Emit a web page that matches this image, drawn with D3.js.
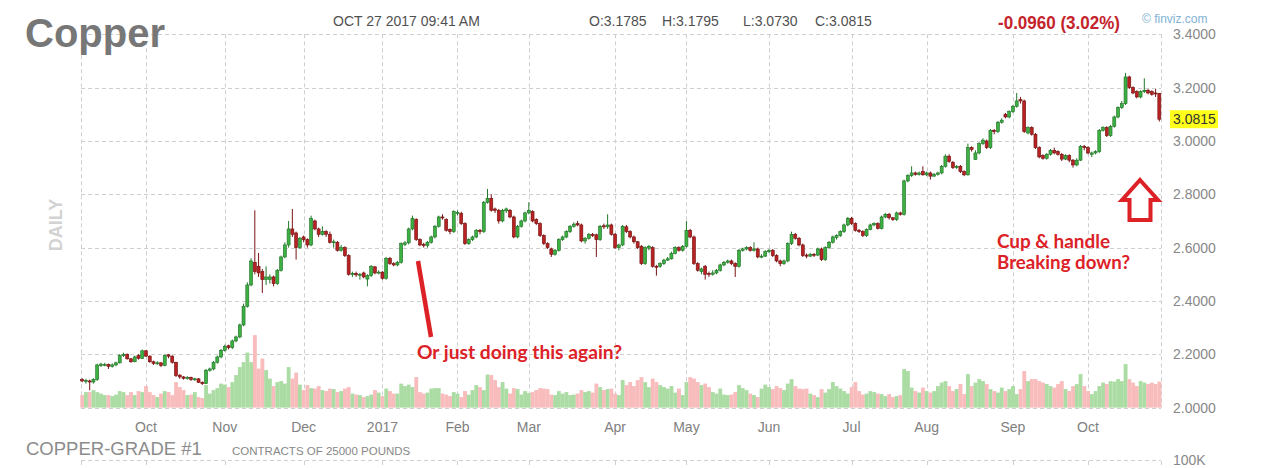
<!DOCTYPE html>
<html><head><meta charset="utf-8">
<script src="https://cdn.jsdelivr.net/npm/d3@7"></script>
<style>body{margin:0;background:#fff}svg{display:block}</style>
</head><body>
<svg id="chart" width="1287" height="468"></svg>
<script>
// ---- categories: trading days (COMEX) ----
const firstDay = "2016-09-08";
const lastDay = "2017-10-27";
const holidays = ["2016-11-24","2016-12-26","2017-01-02","2017-01-16","2017-02-20","2017-04-14","2017-05-29","2017-07-04","2017-09-04"];
const monthLabels = ["Oct","Nov","Dec","2017","Feb","Mar","Apr","May","Jun","Jul","Aug","Sep","Oct"];
const priceTicks = [2.0,2.2,2.4,2.6,2.8,3.0,3.2,3.4];

// ---- series values ----
const opens = [
2.105,2.100,2.100,2.096,2.105,2.158,2.160,2.162,2.155,2.160,
2.168,2.195,2.200,2.183,2.172,2.195,2.185,2.213,2.193,2.172,
2.166,2.168,2.158,2.198,2.193,2.170,2.122,2.115,2.110,2.113,
2.106,2.108,2.095,2.090,2.140,2.145,2.170,2.190,2.215,2.232,
2.225,2.250,2.265,2.310,2.380,2.460,2.545,2.530,2.510,2.480,
2.480,2.490,2.465,2.515,2.565,2.610,2.670,2.655,2.600,2.640,
2.630,2.610,2.700,2.670,2.650,2.660,2.650,2.620,2.620,2.590,
2.600,2.570,2.500,2.503,2.498,2.505,2.482,2.495,2.528,2.505,
2.508,2.485,2.560,2.540,2.535,2.545,2.612,2.618,2.670,2.705,
2.630,2.612,2.608,2.620,2.640,2.680,2.715,2.705,2.668,2.660,
2.728,2.728,2.690,2.615,2.630,2.640,2.665,2.660,2.770,2.785,
2.745,2.740,2.700,2.738,2.740,2.715,2.640,2.680,2.700,2.730,
2.735,2.705,2.690,2.645,2.615,2.595,2.575,2.590,2.630,2.640,
2.660,2.680,2.690,2.685,2.625,2.635,2.650,2.648,2.630,2.682,
2.678,2.685,2.650,2.600,2.610,2.678,2.660,2.640,2.622,2.605,
2.540,2.598,2.600,2.530,2.530,2.540,2.553,2.558,2.578,2.600,
2.590,2.605,2.665,2.640,2.540,2.510,2.530,2.503,2.500,2.505,
2.515,2.535,2.545,2.550,2.540,2.530,2.590,2.595,2.600,2.590,
2.595,2.565,2.568,2.585,2.590,2.570,2.550,2.540,2.550,2.615,
2.650,2.635,2.610,2.572,2.568,2.575,2.572,2.595,2.555,2.600,
2.620,2.638,2.645,2.660,2.685,2.710,2.690,2.665,2.660,2.645,
2.668,2.685,2.690,2.672,2.715,2.725,2.712,2.705,2.730,2.725,
2.850,2.870,2.880,2.875,2.885,2.873,2.880,2.868,2.875,2.880,
2.905,2.943,2.920,2.900,2.905,2.885,2.873,2.975,2.930,2.955,
2.990,3.000,2.975,3.040,3.035,3.070,3.100,3.090,3.110,3.130,
3.155,3.150,3.030,3.050,3.025,2.975,2.945,2.935,2.950,2.965,
2.960,2.950,2.932,2.945,2.928,2.910,2.928,2.980,2.975,2.950,
2.955,2.960,3.040,3.050,3.020,3.055,3.090,3.125,3.140,3.240,
3.200,3.185,3.165,3.185,3.190,3.185,3.180,3.1785];

const highs = [
2.110,2.108,2.105,2.110,2.165,2.168,2.168,2.165,2.166,2.172,
2.200,2.206,2.203,2.186,2.195,2.200,2.218,2.216,2.196,2.176,
2.174,2.170,2.200,2.200,2.196,2.172,2.125,2.118,2.118,2.116,
2.112,2.110,2.098,2.145,2.150,2.175,2.195,2.220,2.236,2.236,
2.255,2.270,2.315,2.390,2.470,2.560,2.740,2.580,2.520,2.530,
2.500,2.495,2.520,2.570,2.620,2.700,2.745,2.660,2.640,2.645,
2.635,2.720,2.705,2.675,2.680,2.665,2.660,2.630,2.625,2.610,
2.605,2.575,2.510,2.510,2.505,2.510,2.500,2.535,2.530,2.515,
2.512,2.565,2.565,2.545,2.550,2.620,2.625,2.675,2.720,2.710,
2.635,2.618,2.625,2.645,2.685,2.720,2.725,2.710,2.672,2.740,
2.740,2.735,2.695,2.635,2.645,2.670,2.670,2.775,2.820,2.800,
2.750,2.745,2.745,2.750,2.745,2.720,2.685,2.705,2.735,2.770,
2.740,2.710,2.695,2.650,2.620,2.600,2.595,2.635,2.645,2.665,
2.685,2.695,2.700,2.690,2.640,2.655,2.655,2.652,2.685,2.690,
2.725,2.690,2.655,2.615,2.685,2.685,2.665,2.645,2.625,2.610,
2.605,2.610,2.605,2.535,2.545,2.558,2.565,2.585,2.605,2.605,
2.610,2.700,2.670,2.645,2.545,2.525,2.535,2.510,2.515,2.520,
2.540,2.550,2.555,2.555,2.545,2.595,2.600,2.605,2.605,2.620,
2.600,2.575,2.590,2.595,2.595,2.575,2.555,2.555,2.620,2.660,
2.655,2.640,2.615,2.578,2.580,2.580,2.600,2.600,2.605,2.625,
2.645,2.650,2.665,2.690,2.715,2.715,2.695,2.670,2.665,2.672,
2.690,2.695,2.695,2.720,2.730,2.730,2.715,2.735,2.735,2.855,
2.875,2.905,2.885,2.885,2.905,2.885,2.885,2.880,2.885,2.910,
2.950,2.950,2.925,2.910,2.910,2.890,2.990,2.980,2.965,2.995,
3.010,3.005,3.045,3.045,3.075,3.085,3.105,3.115,3.135,3.180,
3.165,3.155,3.055,3.055,3.030,2.980,2.950,2.955,2.970,2.975,
2.965,2.955,2.950,2.950,2.932,2.935,2.985,2.985,2.980,2.960,
2.965,3.045,3.055,3.055,3.060,3.095,3.130,3.150,3.255,3.245,
3.205,3.190,3.190,3.235,3.195,3.190,3.195,3.1795];

const lows = [
2.095,2.090,2.065,2.090,2.100,2.152,2.155,2.145,2.150,2.155,
2.165,2.190,2.180,2.168,2.170,2.180,2.182,2.190,2.168,2.160,
2.160,2.152,2.155,2.185,2.165,2.115,2.108,2.105,2.105,2.100,
2.100,2.092,2.085,2.088,2.135,2.140,2.165,2.185,2.210,2.218,
2.220,2.245,2.260,2.305,2.375,2.455,2.500,2.490,2.430,2.460,
2.465,2.455,2.460,2.510,2.560,2.600,2.640,2.555,2.595,2.620,
2.600,2.605,2.665,2.640,2.645,2.640,2.615,2.600,2.585,2.585,
2.565,2.495,2.490,2.490,2.480,2.485,2.455,2.490,2.500,2.500,
2.480,2.480,2.535,2.530,2.530,2.540,2.605,2.612,2.665,2.625,
2.605,2.600,2.600,2.615,2.635,2.675,2.705,2.660,2.650,2.655,
2.720,2.685,2.610,2.610,2.625,2.635,2.650,2.655,2.765,2.735,
2.730,2.690,2.695,2.730,2.710,2.635,2.635,2.675,2.695,2.725,
2.695,2.685,2.640,2.610,2.595,2.565,2.570,2.585,2.625,2.635,
2.655,2.675,2.680,2.620,2.615,2.630,2.640,2.565,2.625,2.670,
2.670,2.645,2.595,2.590,2.605,2.655,2.635,2.615,2.595,2.535,
2.535,2.590,2.525,2.495,2.525,2.535,2.550,2.555,2.575,2.585,
2.585,2.600,2.635,2.535,2.510,2.500,2.480,2.490,2.495,2.500,
2.510,2.530,2.540,2.535,2.490,2.525,2.585,2.590,2.585,2.585,
2.560,2.560,2.565,2.580,2.565,2.545,2.530,2.535,2.545,2.610,
2.630,2.605,2.565,2.560,2.565,2.565,2.568,2.550,2.550,2.595,
2.615,2.630,2.640,2.655,2.680,2.685,2.660,2.655,2.640,2.640,
2.665,2.680,2.668,2.668,2.710,2.705,2.700,2.700,2.720,2.720,
2.845,2.865,2.870,2.870,2.870,2.868,2.855,2.865,2.870,2.875,
2.900,2.918,2.895,2.895,2.880,2.868,2.870,2.960,2.930,2.950,
2.985,2.970,2.970,3.025,3.030,3.065,3.085,3.085,3.105,3.125,
3.140,3.030,3.025,3.020,2.970,2.935,2.930,2.930,2.945,2.950,
2.945,2.925,2.928,2.920,2.900,2.905,2.925,2.965,2.950,2.940,
2.950,2.955,3.035,3.015,3.015,3.050,3.085,3.120,3.135,3.195,
3.175,3.160,3.160,3.180,3.175,3.170,3.165,3.073];

const closes = [
2.100,2.102,2.096,2.105,2.160,2.163,2.162,2.155,2.160,2.168,
2.195,2.200,2.183,2.172,2.190,2.185,2.213,2.193,2.172,2.166,
2.168,2.158,2.195,2.193,2.170,2.120,2.115,2.110,2.113,2.106,
2.108,2.095,2.090,2.140,2.145,2.170,2.190,2.215,2.230,2.225,
2.250,2.265,2.310,2.380,2.460,2.550,2.510,2.505,2.480,2.490,
2.490,2.465,2.515,2.565,2.610,2.670,2.650,2.600,2.635,2.630,
2.610,2.710,2.670,2.650,2.660,2.650,2.620,2.622,2.590,2.600,
2.570,2.500,2.503,2.498,2.500,2.490,2.495,2.530,2.505,2.508,
2.485,2.560,2.540,2.535,2.545,2.615,2.618,2.670,2.710,2.630,
2.610,2.608,2.620,2.640,2.680,2.715,2.712,2.665,2.660,2.735,
2.732,2.690,2.615,2.630,2.640,2.665,2.660,2.770,2.785,2.740,
2.740,2.700,2.740,2.745,2.715,2.640,2.680,2.700,2.730,2.740,
2.700,2.690,2.645,2.615,2.600,2.575,2.590,2.630,2.640,2.660,
2.680,2.688,2.685,2.625,2.635,2.650,2.645,2.630,2.680,2.678,
2.685,2.650,2.600,2.610,2.680,2.660,2.640,2.622,2.600,2.540,
2.600,2.605,2.530,2.528,2.540,2.553,2.558,2.578,2.600,2.590,
2.605,2.665,2.640,2.540,2.515,2.520,2.500,2.500,2.505,2.515,
2.535,2.545,2.550,2.540,2.530,2.590,2.595,2.600,2.590,2.595,
2.565,2.568,2.585,2.590,2.570,2.550,2.540,2.550,2.615,2.650,
2.635,2.610,2.570,2.568,2.575,2.572,2.595,2.555,2.600,2.620,
2.640,2.645,2.660,2.685,2.710,2.690,2.665,2.660,2.645,2.668,
2.685,2.690,2.672,2.715,2.725,2.712,2.705,2.730,2.725,2.850,
2.870,2.880,2.875,2.880,2.873,2.880,2.868,2.875,2.880,2.905,
2.943,2.923,2.900,2.905,2.885,2.873,2.975,2.968,2.955,2.990,
3.003,2.975,3.040,3.035,3.070,3.078,3.090,3.110,3.130,3.150,
3.150,3.035,3.050,3.025,2.975,2.940,2.935,2.950,2.965,2.955,
2.950,2.932,2.945,2.928,2.910,2.928,2.980,2.975,2.955,2.955,
2.960,3.040,3.050,3.020,3.055,3.090,3.125,3.140,3.240,3.200,
3.180,3.165,3.185,3.190,3.180,3.175,3.1775,3.0815];

// volume, thousands of contracts
const volumes = [
25,31,31,35,31,28,25,25,23,26,
33,31,25,31,25,33,31,43,31,25,
21,28,33,31,25,51,41,35,25,26,
31,21,19,45,28,35,39,48,46,41,
51,65,81,91,110,91,145,78,98,75,
58,43,51,53,48,81,58,70,46,35,
45,39,38,43,35,33,38,37,31,33,
38,41,28,26,25,21,23,26,35,30,
23,38,33,28,28,48,43,46,41,61,
31,28,30,38,39,39,28,26,23,31,
28,21,33,26,35,45,41,35,66,65,
55,41,51,38,28,39,37,26,33,29,
31,35,39,38,37,26,25,33,28,31,
25,26,28,35,31,33,30,48,41,35,
37,38,28,25,55,45,51,43,55,61,
51,41,58,51,45,41,38,43,30,38,
25,51,61,58,51,45,48,41,31,28,
38,26,25,26,31,45,39,35,28,25,
21,38,46,41,37,43,39,35,48,57,
43,38,37,38,28,25,21,37,30,37,
51,43,38,33,28,41,51,33,26,28,
33,31,28,27,23,27,21,23,25,77,
73,40,33,30,40,33,30,33,43,50,
53,43,33,37,47,27,67,43,50,57,
53,47,37,33,30,40,33,37,43,27,
37,73,53,57,57,53,50,47,43,40,
47,53,37,33,43,47,67,43,33,27,
33,43,50,47,53,52,57,53,87,57,
50,43,53,50,47,50,47,52];

const lastPrice = 3.0815;

// ---- build trading-day calendar ----
const fmt = d3.utcFormat("%Y-%m-%d");
const dates = [];
for (let d = new Date(firstDay + "T00:00:00Z"); fmt(d) <= lastDay; d = new Date(d.getTime() + 86400000)) {
  const wd = d.getUTCDay();
  if (wd === 0 || wd === 6) continue;
  if (holidays.includes(fmt(d))) continue;
  dates.push(fmt(d));
}
const data = dates.map((k, i) => ({key: k, o: opens[i], h: highs[i], l: lows[i], c: closes[i], v: volumes[i]}));

const svg = d3.select("#chart");
const FONT = "'Liberation Sans', Arial, sans-serif";
const plotL = 80.3, plotR = 1161.2, plotT = 34.3, plotB = 407.6;

const x = d3.scaleBand().domain(dates).range([plotL, plotR]).padding(0);
const bw = x.bandwidth();
const cx = k => x(k) + bw / 2;
const y = d3.scaleLinear().domain([2.0, 3.4]).range([plotB, plotT]);
const vh = d3.scaleLinear().domain([0, 200]).range([0, 100]);

const monthKeys = dates.filter((k, i) => i > 0 && k.slice(5, 7) !== dates[i - 1].slice(5, 7));
const gridX = [81, ...monthKeys.map(cx), 1161];

// ---- grid ----
const grid = svg.append("g").attr("stroke", "#cfcfcf").attr("stroke-dasharray", "4,3").attr("stroke-width", 1);
priceTicks.forEach(p => grid.append("line").attr("x1", 81).attr("x2", 1161).attr("y1", Math.round(y(p)) + 0.5).attr("y2", Math.round(y(p)) + 0.5));
gridX.forEach(gx => grid.append("line").attr("x1", Math.round(gx) + 0.5).attr("x2", Math.round(gx) + 0.5).attr("y1", plotT).attr("y2", plotB));
// lower panel top
grid.append("line").attr("x1", 81).attr("x2", 1161).attr("y1", 460.5).attr("y2", 460.5);
gridX.forEach(gx => grid.append("line").attr("x1", Math.round(gx) + 0.5).attr("x2", Math.round(gx) + 0.5).attr("y1", 461).attr("y2", 468));

// ---- volume ----
svg.append("g").selectAll("rect").data(data).join("rect")
  .attr("x", d => x(d.key)).attr("width", bw + 0.1)
  .attr("y", d => plotB - vh(d.v)).attr("height", d => vh(d.v))
  .attr("fill", d => d.c >= d.o ? "#abdca4" : "#f8bcbc");

// ---- candles ----
const cg = svg.append("g").selectAll("g").data(data).join("g");
cg.append("line")
  .attr("x1", d => cx(d.key)).attr("x2", d => cx(d.key))
  .attr("y1", d => y(d.h)).attr("y2", d => y(d.l))
  .attr("stroke", d => d.c >= d.o ? "#23782a" : "#7a1414").attr("stroke-width", 1);
cg.append("rect")
  .attr("x", d => cx(d.key) - 1.5).attr("width", 3)
  .attr("y", d => y(Math.max(d.o, d.c)))
  .attr("height", d => Math.max(1, Math.abs(y(d.o) - y(d.c))))
  .attr("fill", d => d.c >= d.o ? "#3cb043" : "#b82222")
  .attr("stroke", d => d.c >= d.o ? "#1f6e24" : "#701010").attr("stroke-width", 0.6);

// ---- right price axis ----
const yAxis = d3.axisRight(y).tickValues(priceTicks).tickFormat(d3.format(".4f")).tickSize(0).tickPadding(12);
const ya = svg.append("g").attr("transform", "translate(1161,0)").call(yAxis);
ya.select(".domain").remove();
ya.selectAll("text").attr("font-family", FONT).attr("font-size", 14).attr("fill", "#888");

// last price box
svg.append("rect").attr("x", 1170).attr("y", y(lastPrice) - 9).attr("width", 48).attr("height", 18).attr("fill", "#ffff1a");
svg.append("text").attr("x", 1173).attr("y", y(lastPrice) + 5).text(d3.format(".4f")(lastPrice))
  .attr("font-family", FONT).attr("font-size", 14).attr("fill", "#333");

// ---- month axis ----
const xAxis = d3.axisBottom(x).tickValues(monthKeys).tickFormat((d, i) => monthLabels[i]).tickSize(0).tickPadding(0);
const xa = svg.append("g").attr("transform", "translate(0,432)").call(xAxis);
xa.select(".domain").remove();
xa.selectAll("text").attr("dy", 0).attr("font-family", FONT).attr("font-size", 14).attr("fill", "#808080");

// ---- header texts ----
function txt(t, xx, yy, size, fill, extra) {
  const e = svg.append("text").attr("x", xx).attr("y", yy).text(t)
    .attr("font-family", FONT).attr("font-size", size).attr("fill", fill);
  if (extra) extra(e);
  return e;
}
txt("Copper", 25, 47, 40, "#777", e => e.attr("font-weight", "bold"));
txt("OCT 27 2017 09:41 AM", 333, 26, 14, "#505050");
txt("O:3.1785", 589, 26, 14, "#505050");
txt("H:3.1795", 662, 26, 14, "#505050");
txt("L:3.0730", 743, 26, 14, "#505050");
txt("C:3.0815", 815, 26, 14, "#505050");
txt("-0.0960 (3.02%)", 998, 28.5, 17.5, "#c4232b", e => e.attr("font-weight", "bold").attr("textLength", 122).attr("lengthAdjust", "spacingAndGlyphs"));
txt("\u00a9 finviz.com", 1142, 23, 12, "#7fb3d3");
txt("COPPER-GRADE #1", 26, 455, 18.5, "#8c8c8c");
txt("CONTRACTS OF 25000 POUNDS", 232, 455, 11.5, "#888");
txt("100K", 1173, 465, 14, "#888");
svg.append("text").attr("transform", "translate(62,225) rotate(-90)").attr("text-anchor", "middle")
  .text("DAILY").attr("font-family", FONT).attr("font-weight", "bold").attr("font-size", 18).attr("fill", "#d2d2d2");

// ---- annotations ----
const AFONT = "Lato, 'Open Sans', sans-serif";
const RED = "#dc2127";
svg.append("line").attr("x1", 418).attr("y1", 261).attr("x2", 431).attr("y2", 337)
  .attr("stroke", RED).attr("stroke-width", 4.5);
svg.append("text").attr("x", 417).attr("y", 359).text("Or just doing this again?")
  .attr("font-family", AFONT).attr("font-weight", "bold").attr("font-size", 18).attr("fill", RED)
  .attr("textLength", 205).attr("lengthAdjust", "spacingAndGlyphs");
svg.append("text").attr("x", 997).attr("y", 248).text("Cup & handle")
  .attr("font-family", AFONT).attr("font-weight", "bold").attr("font-size", 18).attr("fill", RED)
  .attr("textLength", 113).attr("lengthAdjust", "spacingAndGlyphs");
svg.append("text").attr("x", 997).attr("y", 269).text("Breaking down?")
  .attr("font-family", AFONT).attr("font-weight", "bold").attr("font-size", 18).attr("fill", RED)
  .attr("textLength", 133).attr("lengthAdjust", "spacingAndGlyphs");
svg.append("path").attr("d", "M1140,180 L1158,200 L1150.5,200 L1150.5,220 L1129.5,220 L1129.5,200 L1122,200 Z")
  .attr("fill", "#fff").attr("stroke", RED).attr("stroke-width", 4).attr("stroke-linejoin", "miter");

if (dates.length !== opens.length || closes.length !== dates.length || highs.length !== dates.length || lows.length !== dates.length || volumes.length !== dates.length) {
  txt("LEN " + dates.length + " " + opens.length + " " + highs.length + " " + lows.length + " " + closes.length + " " + volumes.length, 300, 100, 20, "blue");
}
</script>
</body></html>
